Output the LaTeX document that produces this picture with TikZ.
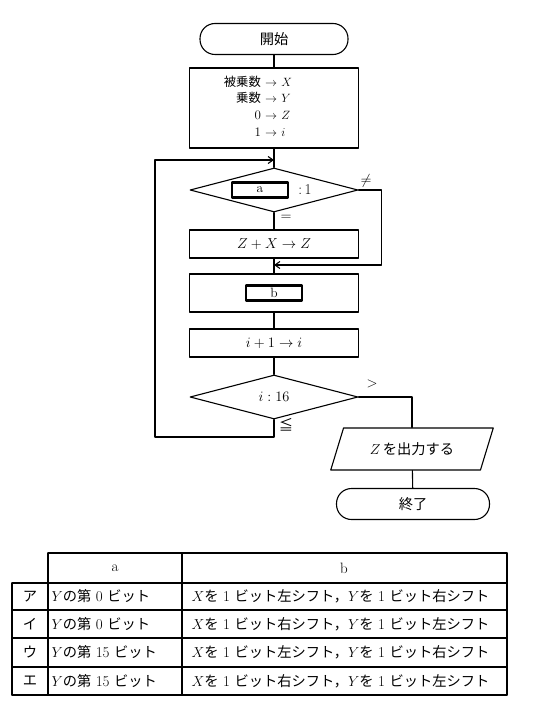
\documentclass[tikz,border=0pt]{standalone}
\usepackage{fontspec}
\usepackage{amssymb}
\usetikzlibrary{shapes.geometric,arrows.meta}

\newfontfamily\jpfont[Scale=0.95]{Noto Sans CJK JP}
\newcommand{\J}[1]{{\jpfont #1}}
\newcommand{\gap}{\hspace{.3em}}

\tikzset{
  base/.style={draw, line width=1.1pt, inner sep=0pt, font=\fontsize{15}{18}\selectfont},
  term/.style={base, rectangle, rounded corners=15pt, minimum width=148pt, minimum height=31pt},
  proc/.style={base, rectangle, minimum width=169pt, minimum height=28pt},
  dec/.style={base, diamond, aspect=4, minimum width=168pt, minimum height=44pt},
  io/.style={base, trapezium, trapezium left angle=59, trapezium right angle=121,
    trapezium stretches=true, minimum width=164pt, minimum height=42pt},
  slot/.style={draw, line width=2.2pt, inner sep=0pt, minimum width=56pt, minimum height=15pt,
    font=\fontsize{13.5}{15}\selectfont},
  lbl/.style={inner sep=0pt, font=\fontsize{15}{18}\selectfont},
  cell/.style={inner sep=0pt, font=\fontsize{15}{18}\selectfont},
  flow/.style={line width=1.1pt},
  arr/.style={flow, -{Straight Barb[length=5pt,width=7pt]}},
}

\begin{document}
\begin{tikzpicture}[x=1pt, y=-1pt, line width=1.1pt, line cap=round, line join=round]

  %% ════ 流程图：框 ════
  \node[term] (start) at (274,39) {\J{開始}};
  \node[proc, minimum height=80pt] (init) at (274,108) {};
  \node[lbl, font=\fontsize{13}{16.7}\selectfont] (initTxt) at (258,108) {%
    \begin{tabular}{@{}r@{\ $\rightarrow$\ }l@{}}
      \J{被乗数} & $X$\\
      \J{乗数}   & $Y$\\
      0          & $Z$\\
      1          & $i$
    \end{tabular}};
  \node[dec] (testA) at (274,190) {};
  \node[slot] (slotA) at (260,190) {a};
  \node[lbl] (oneA) at (305,190) {:\,1};
  \node[proc] (addZ) at (274,244) {$Z+X\rightarrow Z$};
  \node[proc, minimum height=38pt] (shift) at (274,293) {};
  \node[slot] (slotB) at (274,293) {b};
  \node[proc] (incr) at (274,343) {$i+1\rightarrow i$};
  \node[dec] (testI) at (274,397) {$i:16$};
  \node[io] (outZ) at (412,449) {$Z$\,\J{を出力する}};
  \node[term, minimum width=153pt] (stop) at (413,504) {\J{終了}};

  %% ════ 流程图：连线 ════
  \coordinate (loopIn) at (274,160);
  \coordinate (merge) at (274,265);
  \coordinate (loopCorner) at (155,437);

  \draw[flow] (start) -- (init);
  \draw[flow] (init) -- (testA);
  \draw[flow] (testA) -- (addZ);
  \draw[flow] (addZ) -- (shift);
  \draw[flow] (shift) -- (incr);
  \draw[flow] (incr) -- (testI);
  \draw[arr] (testA.east) -- ++(23,0) |- (merge);
  \draw[arr] (testI.south) |- (loopCorner) |- (loopIn);
  \draw[flow] (testI.east) -| (outZ.north);
  \draw[flow] (outZ) -- (stop);

  %% ════ 分支标记 ════
  \node[lbl] (neqA) at (366,181) {$\neq$};
  \node[lbl] (eqA) at (286,218) {$=$};
  \node[lbl] (gtI) at (372,384) {$>$};
  \node[lbl] (leI) at (286,425) {\J{≦}};

  %% ════ 选项表 ════
  \draw[flow] (48,553) -- (507,553);
  \draw[flow] (12,583) -- (507,583);
  \draw[flow] (12,610) -- (507,610);
  \draw[flow] (12,638) -- (507,638);
  \draw[flow] (12,667) -- (507,667);
  \draw[flow] (12,695) -- (507,695);
  \draw[flow] (12,583) -- (12,695);
  \draw[flow] (48,553) -- (48,695);
  \draw[flow] (182,553) -- (182,695);
  \draw[flow] (507,553) -- (507,695);

  \node[cell] (headA) at (115,568) {a};
  \node[cell] (headB) at (344,568) {b};

  \node[cell] (rowA) at (30,596.5) {\J{ア}};
  \node[cell, anchor=west] (colA1) at (51,596.5) {$Y$\J{の第}\gap0\gap\J{ビット}};
  \node[cell, anchor=west] (colB1) at (191,596.5) {$X$\J{を}\gap1\gap\J{ビット左シフト，}$Y$\J{を}\gap1\gap\J{ビット右シフト}};

  \node[cell] (rowI) at (30,624) {\J{イ}};
  \node[cell, anchor=west] (colA2) at (51,624) {$Y$\J{の第}\gap0\gap\J{ビット}};
  \node[cell, anchor=west] (colB2) at (191,624) {$X$\J{を}\gap1\gap\J{ビット右シフト，}$Y$\J{を}\gap1\gap\J{ビット左シフト}};

  \node[cell] (rowU) at (30,652.5) {\J{ウ}};
  \node[cell, anchor=west] (colA3) at (51,652.5) {$Y$\J{の第}\gap15\gap\J{ビット}};
  \node[cell, anchor=west] (colB3) at (191,652.5) {$X$\J{を}\gap1\gap\J{ビット左シフト，}$Y$\J{を}\gap1\gap\J{ビット右シフト}};

  \node[cell] (rowE) at (30,681) {\J{エ}};
  \node[cell, anchor=west] (colA4) at (51,681) {$Y$\J{の第}\gap15\gap\J{ビット}};
  \node[cell, anchor=west] (colB4) at (191,681) {$X$\J{を}\gap1\gap\J{ビット右シフト，}$Y$\J{を}\gap1\gap\J{ビット左シフト}};

  % 钉死画布
  \pgfresetboundingbox
  \path[use as bounding box] (0,0) rectangle (555,714);
\end{tikzpicture}
\end{document}
